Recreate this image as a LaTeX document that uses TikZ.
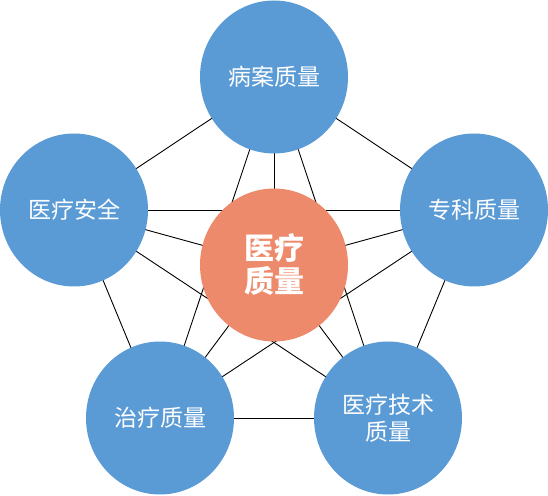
\documentclass[tikz,border=0pt]{standalone}
\usepackage{fontspec}
\usepackage{tikz}
\usetikzlibrary{shapes.geometric,backgrounds}
\newfontfamily\cjk{Noto Sans CJK SC}
\definecolor{ballblue}{HTML}{5B9BD5}
\definecolor{ballorange}{HTML}{EE8A6C}

\begin{document}
\begin{tikzpicture}[x=1pt,y=1pt,
    ball/.style={ellipse,fill=ballblue,minimum width=148pt,minimum height=153pt,
      inner sep=0pt,text=white,align=center,
      font=\cjk\fontsize{23}{27}\selectfont},
    core/.style={ball,fill=ballorange,font=\cjk\bfseries\fontsize{30}{33}\selectfont},
    link/.style={draw=black,line width=0.9pt}]
    \useasboundingbox (0,0) rectangle (548,495);

    % Draw the balls
    \node[core] (yl) at (274,230) {医疗\\质量};
    \node[ball] (ba) at (274,418) {病案质量};
    \node[ball] (aq) at (74,285) {医疗安全};
    \node[ball] (zk) at (474,285) {专科质量};
    \node[ball] (zl) at (160,77) {治疗质量};
    \node[ball] (js) at (388,77) {医疗技术\\质量};

    % Connect every pair
    \begin{scope}[on background layer]
      \foreach \a/\b in {ba/aq,ba/zk,ba/zl,ba/js,ba/yl,
                         aq/zk,aq/zl,aq/js,aq/yl,
                         zk/zl,zk/js,zk/yl,
                         zl/js,zl/yl,js/yl}
        \draw[link] (\a.center) -- (\b.center);
    \end{scope}
\end{tikzpicture}
\end{document}
